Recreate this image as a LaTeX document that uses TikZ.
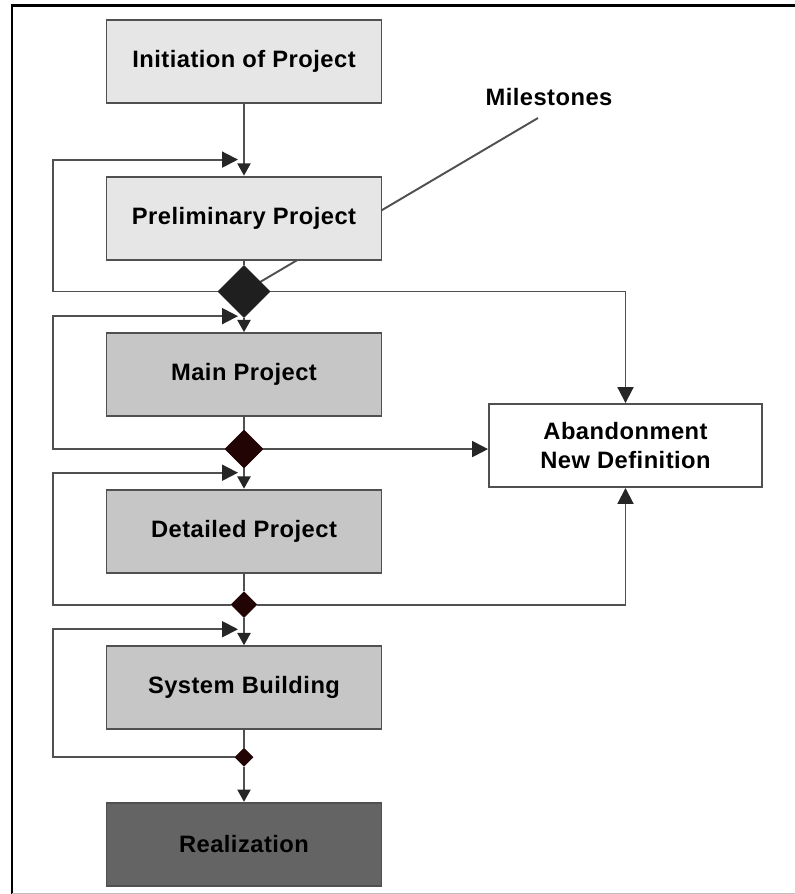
\documentclass[tikz,border=0pt]{standalone}
\usepackage{fontspec}
\setmainfont{Liberation Sans}[LetterSpace=2]
\usetikzlibrary{shapes.geometric,arrows.meta,positioning,backgrounds,calc}
\definecolor{lightbox}{HTML}{E6E6E6}
\definecolor{midbox}{HTML}{C6C6C6}
\definecolor{darkbox}{HTML}{646464}
\definecolor{milecol}{HTML}{220404}
\definecolor{linecol}{HTML}{505050}
\tikzset{
  phase/.style={draw=linecol, line width=1.1pt, minimum width=5.5cm, minimum height=1.66cm,
    font=\fontsize{13.5}{16.5}\selectfont\bfseries, align=center},
  mile/.style={diamond, draw=milecol, fill=milecol, inner sep=0pt, aspect=1},
  wire/.style={draw=linecol, line width=1.1pt},
  flow/.style={wire, -{Triangle[length=9pt,width=9pt,color=black!85]}},
  into/.style={wire, -{Triangle[length=7pt,width=7.5pt,color=black!85]}},
}
\begin{document}
\begin{tikzpicture}[x=0.02cm, y=-0.02cm, node distance=1.433cm]
  \useasboundingbox (0,0) rectangle (795,894);
  % frame
  \draw[line width=1.7pt] (12,894) -- (12,5) -- (795,5);
  \draw[black!25] (12,893) -- (795,893);

  % phases
  \node[phase, fill=lightbox] (init) at (244,61.5) {Initiation of Project};
  \node[phase, fill=lightbox, below=of init] (prelim) {Preliminary Project};
  \node[phase, fill=midbox, below=of prelim] (main) {Main Project};
  \node[phase, fill=midbox, below=of main] (detail) {Detailed Project};
  \node[phase, fill=midbox, below=of detail] (build) {System Building};
  \node[phase, fill=darkbox, below=of build] (real) {Realization};
  \node[phase, fill=white, minimum width=5.46cm] (aband) at (625.5,445.5) {Abandonment\\New Definition};

  % milestones
  \node[mile, fill=black!88, draw=black!88, minimum size=1.04cm] (m1) at ($(prelim.south)+(0,31)$) {};
  \node[mile, minimum size=0.76cm] (m2) at ($(main.south)+(0,32)$) {};
  \node[mile, minimum size=0.52cm] (m3) at ($(detail.south)+(0,31)$) {};
  \node[mile, minimum size=0.36cm] (m4) at ($(build.south)+(0,27)$) {};

  \node[font=\fontsize{13.5}{16.5}\selectfont\bfseries] (milelabel) at (549,97) {Milestones};
  \coordinate (miletip) at (538,118);
  \begin{pgfonlayer}{background}
    \draw[wire] (miletip) -- (m1.center);
  \end{pgfonlayer}

  % main flow
  \foreach \a/\b in {prelim/m1, main/m2, detail/m3, build/m4}
    \draw[wire] (\a) -- (\b);
  \foreach \a/\b in {init/prelim, m1/main, m2/detail, m3/build, m4/real}
    \draw[into] (\a) -- (\b);

  % loops back
  \coordinate (rail) at (53,0);
  \foreach \d/\b in {m1/prelim, m2/main, m3/detail, m4/build}
    \draw[flow] (\d.west) -- (\d.west -| rail) -- ($(\b.north -| rail)+(0,-16)$) -- ($(\b.north)+(-6,-16)$);

  % to abandonment
  \draw[flow] (m1.east) -| (aband.north);
  \draw[flow] (m2.east) -- (m2.east -| aband.west);
  \draw[flow] (m3.east) -| (aband.south);
\end{tikzpicture}
\end{document}
